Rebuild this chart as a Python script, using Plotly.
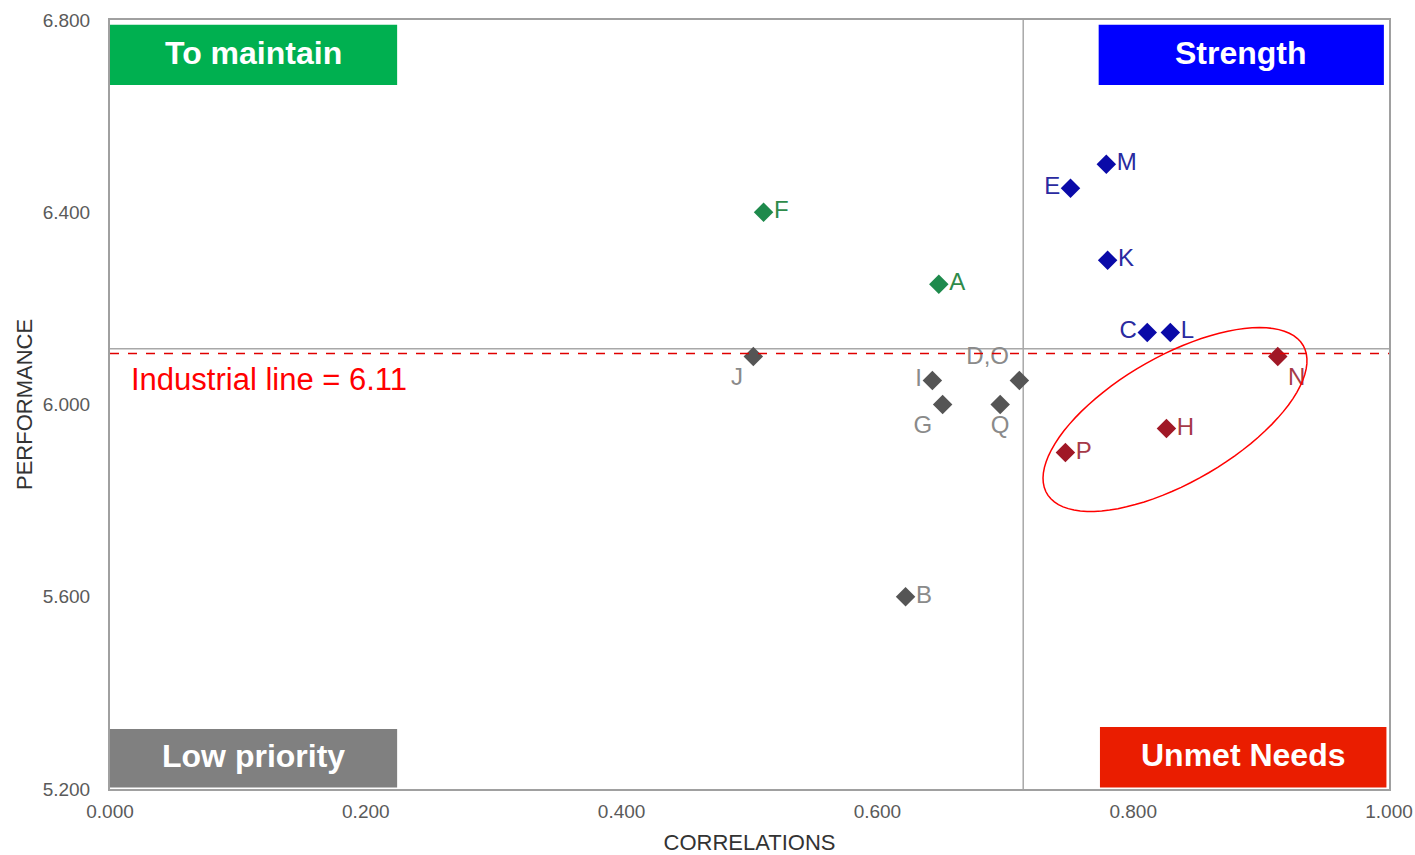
import numpy as np
import plotly.graph_objects as go

# ---- data ----
labels = ["F", "A", "J", "I", "G", "D,O", "Q", "B", "E", "M", "K", "C", "L", "N", "H", "P"]
correlations = [0.511, 0.648, 0.503, 0.643, 0.651, 0.711, 0.696, 0.622,
                0.751, 0.779, 0.780, 0.811, 0.829, 0.913, 0.826, 0.747]
performance = [6.40, 6.25, 6.10, 6.05, 6.00, 6.05, 6.00, 5.60,
               6.45, 6.50, 6.30, 6.15, 6.15, 6.10, 5.95, 5.90]
groups = ["maintain", "maintain", "low", "low", "low", "low", "low", "low",
          "strength", "strength", "strength", "strength", "strength",
          "unmet", "unmet", "unmet"]
text_pos = ["middle right", "middle right", "bottom left", "middle left", "bottom left",
            "top left", "bottom center", "middle right", "middle left", "middle right",
            "middle right", "middle left", "middle right", "bottom right", "middle right",
            "middle right"]

industrial_line = 6.11
corr_split = 0.714
x_ticks = [0.0, 0.2, 0.4, 0.6, 0.8, 1.0]
y_ticks = [5.2, 5.6, 6.0, 6.4, 6.8]

XR = [0.0, 1.0]
YR = [5.2, 6.8]

# ---- layout geometry (body margin removed via post_script) ----
W, H = 1415, 855
PL, PR, PT, PB = 110, 1389, 20, 789   # plot area in page pixels
ML, MT = PL, PT
MR, MB = W - PR, H - PB
sx = (PR - PL) / (XR[1] - XR[0])
sy = (PB - PT) / (YR[1] - YR[0])

FONT = "Liberation Sans, Arial"

style = {
    "maintain": dict(marker="#1E8A4C", text="#2E8B4A"),
    "low": dict(marker="#555555", text="#8A8A8A"),
    "strength": dict(marker="#0A0AA8", text="#2A2AA0"),
    "unmet": dict(marker="#A01826", text="#A63A48"),
}

fig = go.Figure()

for g, st in style.items():
    idx = [i for i, gg in enumerate(groups) if gg == g]
    fig.add_trace(go.Scatter(
        x=[correlations[i] for i in idx],
        y=[performance[i] for i in idx],
        text=[labels[i] for i in idx],
        textposition=[text_pos[i] for i in idx],
        mode="markers+text",
        marker=dict(symbol="diamond", size=15, color=st["marker"],
                    line=dict(width=0)),
        textfont=dict(family=FONT, size=24, color=st["text"]),
        showlegend=False,
        cliponaxis=False,
        hoverinfo="skip",
    ))

shapes = []
# quadrant separators
shapes.append(dict(type="line", xref="x", yref="y", x0=corr_split, x1=corr_split,
                   y0=YR[0], y1=YR[1], line=dict(color="#A8A8A8", width=1.5), layer="below"))
shapes.append(dict(type="line", xref="x", yref="y", x0=XR[0], x1=XR[1],
                   y0=industrial_line + 0.006, y1=industrial_line + 0.006,
                   line=dict(color="#A8A8A8", width=1.5), layer="below"))
# industrial line
shapes.append(dict(type="line", xref="x", yref="y", x0=XR[0], x1=XR[1],
                   y0=industrial_line - 0.004, y1=industrial_line - 0.004,
                   line=dict(color="#E00000", width=1.5, dash="dash")))

# quadrant boxes (x0, x1, y0, y1, colour, text)
boxes = [
    (0.0, 0.2245, 6.665, 6.79, "#00B050", "To maintain"),
    (0.773, 0.996, 6.665, 6.79, "#0000FF", "Strength"),
    (0.0, 0.2245, 5.203, 5.325, "#808080", "Low priority"),
    (0.774, 0.998, 5.203, 5.329, "#EA1D00", "Unmet Needs"),
]
annotations = []
for x0, x1, y0, y1, col, txt in boxes:
    shapes.append(dict(type="rect", xref="x", yref="y", x0=x0, x1=x1, y0=y0, y1=y1,
                       fillcolor=col, line=dict(width=0)))
    annotations.append(dict(x=(x0 + x1) / 2, y=(y0 + y1) / 2, xref="x", yref="y",
                            text=f"<b>{txt}</b>", showarrow=False, yshift=2,
                            font=dict(family=FONT, size=32, color="white")))

# ellipse around unmet needs (pixel-based geometry, page coordinates)
ecx_px, ecy_px = 1175 - PL, 419.5 - PT
a_px, b_px, theta = 148, 63, np.deg2rad(30)
t = np.linspace(0, 2 * np.pi, 90)
dxp = a_px * np.cos(t) * np.cos(theta) - b_px * np.sin(t) * np.sin(theta)
dyp = a_px * np.cos(t) * np.sin(theta) + b_px * np.sin(t) * np.cos(theta)
ex = XR[0] + (ecx_px + dxp) / sx
ey = YR[1] - (ecy_px - dyp) / sy
path = "M " + " L ".join(f"{a:.5f},{b:.5f}" for a, b in zip(ex, ey)) + " Z"
shapes.append(dict(type="path", xref="x", yref="y", path=path,
                   line=dict(color="#FF0000", width=1.5)))

annotations.append(dict(x=0.015, y=industrial_line - 0.012, xref="x", yref="y",
                        xanchor="left", yanchor="top", showarrow=False, yshift=-3,
                        text=f"Industrial line = {industrial_line}",
                        font=dict(family=FONT, size=31, color="#FF0000")))

fig.update_layout(
    width=W, height=H,
    margin=dict(l=ML, r=MR, t=MT, b=MB),
    paper_bgcolor="white", plot_bgcolor="white",
    shapes=shapes, annotations=annotations,
    hovermode=False,
    xaxis=dict(range=XR, tickvals=x_ticks, ticktext=[f"{v:.3f}" for v in x_ticks],
               showgrid=False, zeroline=False, showline=True, mirror=True,
               linecolor="#A0A0A0", linewidth=2, ticks="", automargin=False,
               ticklabelstandoff=4,
               tickfont=dict(family=FONT, size=19, color="#5A5A5A"),
               title=dict(text="CORRELATIONS", standoff=18,
                          font=dict(family=FONT, size=22, color="#333333"))),
    yaxis=dict(range=YR, tickvals=y_ticks, ticktext=[f"{v:.3f}" for v in y_ticks],
               showgrid=False, zeroline=False, showline=True, mirror=True,
               linecolor="#A0A0A0", linewidth=2, ticks="", ticklabelstandoff=14,
               automargin=False,
               tickfont=dict(family=FONT, size=19, color="#5A5A5A"),
               title=dict(text="PERFORMANCE", standoff=4,
                          font=dict(family=FONT, size=22, color="#333333"))),
)

fig.write_html("out.html",
               config={"displayModeBar": False},
               post_script="document.body.style.margin='0';"
                           "document.body.style.overflow='hidden';")
